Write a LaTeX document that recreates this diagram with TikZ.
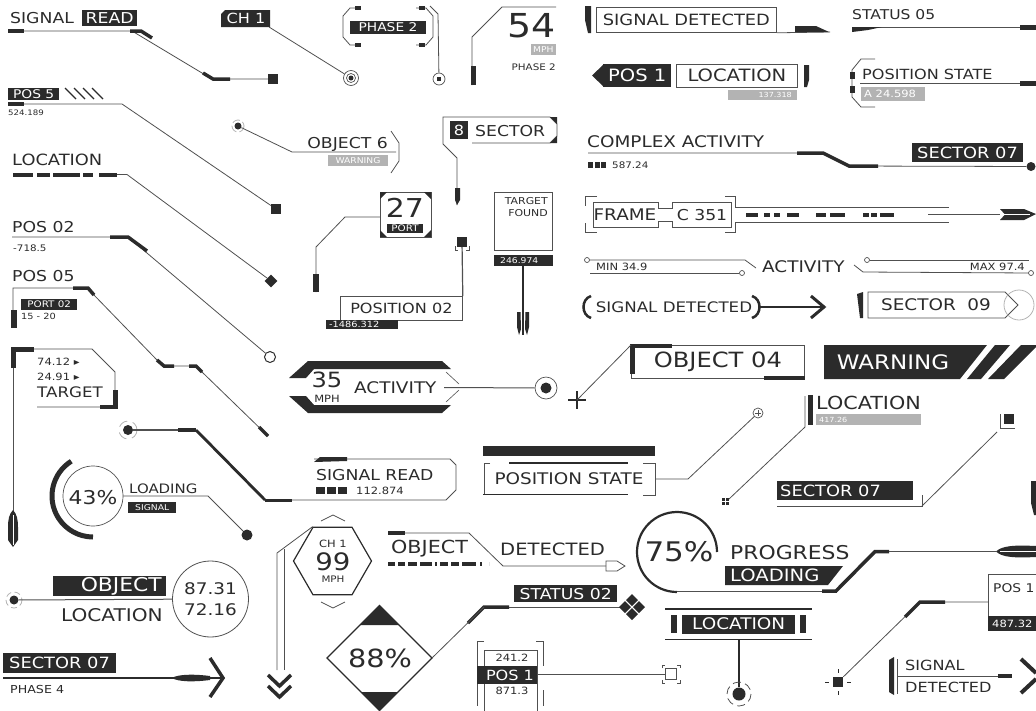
\documentclass[tikz,border=0pt]{standalone}
\usepackage{fontspec}
\setmainfont{DejaVu Sans}[FakeStretch=1.15]
\usetikzlibrary{positioning,shapes.geometric}
\definecolor{dk}{HTML}{2B2B2B}
\definecolor{gr}{HTML}{B3B3B3}
\definecolor{ln}{HTML}{505050}

\begin{document}
\begin{tikzpicture}[x=1pt, y=-1pt,
    txt/.style={font=\fontsize{#1}{#1}\selectfont, text=dk, inner sep=0pt},
    wtxt/.style={font=\fontsize{#1}{#1}\selectfont, text=white, inner sep=0pt},
    tag/.style={fill=dk, inner sep=0pt},
    gtag/.style={fill=gr, inner sep=0pt},
    wire/.style={draw=ln, line width=0.8pt},
    hv/.style={draw=dk, line width=#1}, hv/.default=3.5pt,
    dot/.style={circle, fill=dk, inner sep=0pt, minimum size=#1},
    ring/.style={circle, draw=ln, line width=0.7pt, inner sep=0pt, minimum size=#1},
    frame/.style={draw=ln, line width=0.8pt, inner sep=0pt}]
\useasboundingbox (0,0) rectangle (1036,710);

% signal read, top left
\node[txt=15, anchor=west] (sigA) at (10,18) {SIGNAL};
\node[tag, wtxt=15, minimum width=55, minimum height=16, anchor=west] (readA) at (82,18) {READ};
\node[tag, minimum size=10] (sqA) at (273,79) {};
\coordinate (sigAs) at (8,31);
\draw[wire] (sigAs) -- (132,31) -- (212,79) -- (sqA);
\draw[hv] (sigAs) -- ++(16,0);
\draw[hv] (130,31) -- (141,31) -- (152,38);
\draw[hv] (203,73) -- (213,79) -- (230,79);

% ch 1
\fill[dk] (225,10) -- (270,10) -- (270,27) -- (221,27) -- (221,14) -- cycle;
\node[wtxt=14] (ch1) at (246,18.5) {CH 1};
\coordinate (ch1c) at (269,27);
\node[ring=15] (tgtA) at (351,78) {};
\node[ring=9] (tgtAi) at (351,78) {};
\node[dot=5] (tgtAd) at (351,78) {};
\draw[wire] (ch1c) -- (tgtA);

% phase 2
\node[tag, wtxt=12, minimum width=76, minimum height=13] (ph2) at (388,27) {PHASE 2};
\draw[wire] (360,8) -- (350,8) -- (343,16) -- (343,37) -- (350,45) -- (360,45);
\draw[wire] (416,8) -- (426,8) -- (433,16) -- (433,37) -- (426,45) -- (416,45);
\foreach \px in {355,419} {
  \fill[dk] (\px,6) rectangle ++(6,4);
  \fill[dk] (\px,43) rectangle ++(6,4);
}
\node[ring=12] (tgtB) at (439,79) {};
\node[tag, minimum size=4] (tgtBd) at (439,79) {};
\draw[wire] (430,6) -- (438,14) -- (tgtB);

% 54
\node[txt=33, anchor=east] (n54) at (556,26) {54};
\draw[wire] (472,85) -- (472,37) -- (502,7) -- (556,7);
\fill[dk] (470.5,66) rectangle (476,85);
\node[gtag, wtxt=8, minimum width=25, minimum height=11, anchor=north east] (mph54) at (556,44) {MPH};
\node[txt=9, anchor=east] (ph2b) at (556,67) {PHASE 2};

% signal detected, top
\node[frame, txt=15.5, minimum width=180, minimum height=25, anchor=north west] (sigdet) at (596,7) {SIGNAL DETECTED};
\fill[dk] (585,6) -- (591,6) -- (591,33) -- (588,33) -- (585,20) -- cycle;
\draw[wire] (sigdet.south east) -- (830,32);
\fill[dk] (795,26) -- (816,26) -- (829,32) -- (795,32) -- cycle;

% status 05
\node[txt=13.5, anchor=west] (st05) at (852,15) {STATUS 05};
\draw[wire] (852,27.5) -- (1036,27.5);
\fill[dk] (852,27) -- (882,27) -- (868,30) -- (852,32) -- cycle;
\fill[dk] (1020,25) rectangle (1036,30);

% pos 1 / location, top
\fill[dk] (592,75.5) -- (604,64) -- (604,87) -- cycle;
\node[tag, wtxt=17, minimum width=68, minimum height=23, anchor=west] (pos1A) at (603,75.5) {POS 1};
\node[frame, txt=17, minimum width=121, minimum height=23, anchor=west] (loc1) at (676,75.5) {LOCATION};
\fill[gr] (728,90) rectangle (797,100);
\node[wtxt=7, anchor=east] (loc1v) at (792,95) {137.318};
\fill[dk] (804,65) -- (809,65) -- (809,80) -- (807,87) -- (804,87) -- cycle;

% position state, right
\node[txt=14, anchor=west] (psR) at (862,74.5) {POSITION STATE};
\draw[wire] (860,83) -- (1036,83);
\fill[dk] (1020,81) rectangle (1036,85.5);
\fill[gr] (861,87) rectangle (925,101);
\node[wtxt=10, anchor=west] (psRv) at (864,94) {A 24.598};
\draw[wire] (875,59) -- (861,59) -- (852,70) -- (852,97) -- (861,107) -- (875,107);
\fill[dk] (850,72) rectangle (855,79);
\fill[dk] (850,86) rectangle (855,93);

% complex activity
\node[txt=16, anchor=west] (cact) at (587,142) {COMPLEX ACTIVITY};
\node[dot=9] (cactE) at (1031,166.5) {};
\draw[wire] (588,153) -- (797,153) -- (823,153) -- (849,166) -- (cactE);
\draw[hv] (797,153) -- (823,153) -- (849,166) -- (878,166);
\fill[dk] (912,143) rectangle (1023,162);
\node[wtxt=15.5, anchor=west] (sec07a) at (917,152.5) {SECTOR 07};
\foreach \i in {0,1,2} \fill[dk] (588+6.5*\i,162) rectangle ++(5,6);
\node[txt=9, anchor=west] (cactv) at (612,165) {587.24};

% frame / c 351
\draw[wire] (593,202) -- (658,202) -- (658,208) -- (672,208) -- (672,202) -- (731,202) -- (731,227)
  -- (672,227) -- (672,221) -- (658,221) -- (658,227) -- (593,227) -- cycle;
\node[txt=16] (frm) at (625,215) {FRAME};
\node[txt=15] (c351) at (702,215) {C 351};
\draw[wire] (597,196) -- (585,196) -- (585,206);
\draw[wire] (585,223) -- (585,232) -- (597,232);
\draw[wire] (725,196) -- (735,196) -- (735,207) -- (949,207);
\draw[wire] (725,232) -- (735,232) -- (735,222) -- (949,222);
\draw[dk, line width=4pt, dash pattern=on 12pt off 6pt on 6pt off 4pt on 6pt off 7pt on 12pt off 17pt on 10pt off 4pt on 15pt off 18pt on 6pt off 2pt on 6pt off 3pt on 14pt] (746,214.5) -- (894,214.5);
\coordinate (dartB) at (1000,214.5);
\draw[wire] (928,214.5) -- (dartB);
\fill[dk] (1000,209) -- (1024,209) -- (1036,214) -- (1024,220) -- (1000,220) -- (1005,214.5) -- cycle;
\draw[white, line width=1.2pt] (1003,214.5) -- (1030,214.5);

% min / activity / max
\node[txt=16, anchor=west] (actv) at (762,266.5) {ACTIVITY};
\node[ring=5] (minA) at (587,260) {};
\node[ring=5] (minB) at (742,273) {};
\draw[wire] (minA) -- (745,260) -- (756,268);
\draw[wire] (590,273) -- (minB);
\node[txt=10, anchor=west] (minv) at (596,266.5) {MIN 34.9};
\node[ring=5] (maxA) at (867,260) {};
\node[ring=5] (maxB) at (1031,273) {};
\draw[wire] (maxA) -- (1029,260);
\draw[wire] (854,265) -- (863,272) -- (maxB);
\node[txt=10, anchor=east] (maxv) at (1025,266.5) {MAX 97.4};

% (signal detected) arrow
\node[txt=14.5] (sdet2) at (674,307) {SIGNAL DETECTED};
\draw[dk, line width=2.5pt] (591,296) .. controls (581,299) and (581,315) .. (591,318);
\draw[dk, line width=2.5pt] (752,296) .. controls (762,299) and (762,315) .. (752,318);
\coordinate (sdetE) at (760,307);
\coordinate (sdetA) at (824,307);
\draw[dk, line width=1.2pt] (sdetE) -- (sdetA);
\draw[dk, line width=3pt] (811,296) -- (824,307) -- (811,318);

% sector 09
\fill[dk] (857,294) -- (863,292) -- (863,318) -- (860,318) -- cycle;
\draw[wire] (868,292) -- (1005,292) -- (1018,305) -- (1005,318) -- (868,318) -- cycle;
\node[txt=16] (sec09) at (936,305) {SECTOR\ \ 09};
\node[circle, draw=gr, line width=0.8pt, minimum size=30, inner sep=0] (sec09c) at (1019,305) {};

% object 04
\node[frame, txt=21, minimum width=173, minimum height=33, anchor=north west] (obj04) at (631,345) {OBJECT 04};
\fill[dk] (630,344) rectangle (672,348);
\fill[dk] (630,344) rectangle (635,374);
\fill[dk] (764,376) rectangle (805,380);
\coordinate (plusA) at (577,400);
\draw[dk, line width=1.3pt] (568,400) -- (586,400) (577,391) -- (577,409);
\draw[wire] (obj04.north west) -- (plusA);

% warning
\fill[dk] (824,345) -- (987,345) -- (960,379) -- (824,379) -- cycle;
\fill[dk] (995,345) -- (1010,345) -- (981,379) -- (967,379) -- cycle;
\fill[dk] (1021,345) -- (1038,345) -- (1004,379) -- (988,379) -- cycle;
\node[wtxt=20] (warn) at (893,362) {WARNING};

% location, right
\node[txt=18, anchor=west] (locR) at (816,402.5) {LOCATION};
\fill[gr] (816,414) rectangle (921,425);
\node[wtxt=7, anchor=west] (locRv) at (819,419.5) {417.26};
\fill[dk] (808,395) rectangle (812.5,425);
\coordinate (gridA) at (729,499);
\foreach \gx/\gy in {0/0,4/0,0/4,4/4} \fill[dk] ({722+\gx},{498+\gy}) rectangle ++(3.3,3.3);
\draw[wire] (805,396) -- (805,427) -- (gridA);
\node[circle, draw=ln, line width=0.7pt, minimum size=10, inner sep=0] (cplus) at (758,413) {};
\draw[ln, line width=0.7pt] (755,413) -- (761,413) (758,410) -- (758,416);

% small square, sector 07 right
\fill[dk] (1004,414) rectangle (1014,424);
\draw[wire] (1000,414) -- (1000,428) -- (1015,428);
\coordinate (sqB) at (997,432);
\fill[dk] (777,481) rectangle (913,500);
\node[wtxt=15.5, anchor=west] (sec07b) at (780,490.5) {SECTOR 07};
\draw[wire] (777,506) -- (922,506) -- (922,495);
\draw[wire] (922,506) -- (sqB);
\fill[dk] (1031,481) -- (1036,481) -- (1036,515) -- (1034,515) -- (1031,503) -- cycle;

% 75% progress loading
\draw[dk, line width=2.2pt] (717,552) arc[start angle=360, end angle=90, radius=40];
\node[txt=27] (p75) at (679,552) {75\%};
\node[txt=19, anchor=west] (prog) at (730,553) {PROGRESS};
\fill[dk] (725,566) -- (843,566) -- (828,585) -- (725,585) -- cycle;
\node[wtxt=17, anchor=west] (load75) at (730,575.5) {LOADING};
\coordinate (dartA) at (996,551.5);
\draw[wire] (677,591) -- (822,591);
\draw[hv] (822,591) -- (836,591) -- (875,551.5) -- (889,551.5);
\draw[wire] (889,551.5) -- (dartA);
\fill[dk] (996,551.5) .. controls (1002,545.5) and (1015,545) .. (1036,546) -- (1036,557)
  .. controls (1015,558) and (1002,557.5) .. (996,551.5) -- cycle;
\draw[white, line width=1pt] (1000,551.5) -- (1036,551.5);

% pos 1, right
\node[frame, minimum width=60, minimum height=42, anchor=north west] (pos1R) at (988,574) {};
\node[txt=12, anchor=west] (pos1Rt) at (993,588) {POS 1};
\fill[dk] (988,616) rectangle (1040,631);
\node[wtxt=10, anchor=west] (pos1Rv) at (992,624) {487.32};
\node[tag, minimum size=10] (sqC) at (838,682) {};
\coordinate (pos1Rw) at (988,602);
\draw[wire] (pos1Rw) -- (920,602) -- (sqC);
\draw[hv] (945,602) -- (920,602) -- (905,617);
\draw[dk, line width=1pt] (825,682) -- (829,682) (847,682) -- (851,682) (838,669) -- (838,673) (838,691) -- (838,695);

% signal detected, bottom right
\fill[dk] (889,660) -- (894,657) -- (894,695) -- (889,692) -- cycle;
\draw[ln, line width=1pt] (897,659) -- (897,694);
\draw[wire] (897,676) -- (1012,676);
\fill[dk] (998,674) -- (1012,674) -- (1012,678) -- (998,678) -- cycle;
\node[txt=14, anchor=west] (sigBR) at (905,665.5) {SIGNAL};
\node[txt=14, anchor=west] (detBR) at (905,687) {DETECTED};
\draw[dk, line width=4pt] (1021,659) -- (1036,673) (1021,693) -- (1036,679);

% location, bottom middle
\draw[dk, line width=1.8pt] (665,609) -- (812,609) (665,639.5) -- (812,639.5);
\fill[dk] (671,615) rectangle (676.5,633);
\node[tag, wtxt=16, minimum width=113, minimum height=19, anchor=west] (locB) at (682,624) {LOCATION};
\fill[dk] (800,615) rectangle (805.5,633);
\node[dot=13] (locBd) at (739,694) {};
\draw[dk, line width=1.8pt] (739,639.5) -- (locBd);
\draw[ln, line width=0.8pt, dash pattern=on 8pt off 4.5pt] (739,694) circle[radius=12];

% status 02
\node[tag, wtxt=15, minimum width=103, minimum height=17, anchor=north west] (st02) at (514,585) {STATUS 02};
\coordinate (st02a) at (484,607);
\draw[wire] (st02a) -- (621,607);
\draw[hv] (509,607) -- (st02a) -- (468,623);
\foreach \dx/\dy in {-7/0,7/0,0/-7,0/7}
  \fill[dk] ({632+(\dx)-6},{607+(\dy)}) -- ++(6,-6) -- ++(6,6) -- ++(-6,6) -- cycle;

% 88% diamond
\coordinate (d88r) at (432,658);
\draw[dk, line width=1.2pt] (327,658) -- (379.5,605.5) -- (d88r) -- (379.5,710.5) -- cycle;
\fill[dk] (379.5,605.5) -- (399,625) -- (360,625) -- cycle;
\fill[dk] (379.5,710.5) -- (361,692) -- (398,692) -- cycle;
\draw[wire] (st02a) -- (d88r);
\node[txt=25] (p88) at (380,658) {88\%};

% hexagon 99
\node[regular polygon, regular polygon sides=6, draw=dk, line width=1.2pt, minimum size=78, inner sep=0] (hex) at (332.5,561) {};
\draw[ln, line width=0.8pt] (321,521) -- (333,515) -- (345,521);
\draw[ln, line width=0.8pt] (321,602) -- (333,608) -- (345,602);
\node[txt=10] (hexa) at (333,543.5) {CH 1};
\node[txt=24] (hexb) at (333,562) {99};
\node[txt=9] (hexc) at (333,579) {MPH};
\draw[wire] (hex.corner 2) -- (277,553) -- (277,670);
\draw[wire] (284,549.2) -- (284,670);
\draw[dk, line width=3.5pt] (268,675) -- (279.5,686) -- (291,675);
\draw[dk, line width=3.5pt] (268,686) -- (279.5,697) -- (291,686);

% object detected
\node[txt=18, anchor=west] (objD) at (391,549) {OBJECT};
\node[txt=17, anchor=west] (detD) at (500,549) {DETECTED};
\coordinate (objDs) at (388,533);
\coordinate (pencil) at (606,566);
\draw[wire] (objDs) -- (469,533) -- (503,566) -- (pencil);
\draw[hv] (objDs) -- ++(17,0);
\draw[wire] (606,561) -- (617,561) -- (625,566) -- (617,571) -- (606,571) -- cycle;
\draw[dk, line width=3.5pt, dash pattern=on 7pt off 3pt on 7pt off 3pt on 9pt off 3pt on 12pt off 3pt on 2pt off 3pt on 8pt off 3pt on 8pt off 3pt on 14pt off 4pt on 2pt] (388,564) -- (489,564);

% pos 1, middle
\draw[wire] (484,641) -- (477,641) -- (477,706);
\draw[wire] (536,641) -- (543,641) -- (543,666) (543,690) -- (543,706);
\draw[wire] (484,650) rectangle (537,712);
\fill[dk] (477,666) rectangle (537,684);
\node[txt=10] (p1a) at (512,658) {241.2};
\node[wtxt=14] (p1b) at (510,675) {POS 1};
\node[txt=10] (p1c) at (512,691) {871.3};
\node[draw=ln, line width=0.8pt, minimum size=11, inner sep=0] (tgtC) at (671,674) {};
\draw[ln, line width=0.8pt] (662,668) -- (662,665) -- (665,665) (677,665) -- (680,665) -- (680,668)
  (662,680) -- (662,683) -- (665,683) (677,683) -- (680,683) -- (680,680);
\coordinate (p1e) at (537,674);
\draw[wire] (p1e) -- (tgtC);

% signal read, middle
\node[txt=15, anchor=west] (sigM) at (316,475) {SIGNAL READ};
\foreach \i in {0,1,2} \fill[dk] (316+11*\i,487) rectangle ++(9,7);
\node[txt=10, anchor=west] (sigMv) at (356,490.5) {112.874};
\draw[wire] (314,459) -- (450,459) -- (456,465) -- (456,490) -- (446,500) -- (265,500);
\fill[dk] (314,462) -- (320,457) -- (347,457) -- (347,461) -- cycle;
\draw[hv=3pt] (265,500) -- (292,500);
\node[dot=10] (tgtD) at (128,430) {};
\draw[gr, line width=0.8pt, dash pattern=on 10pt off 5.7pt] (128,430) circle[radius=9];
\coordinate (tgtDe) at (265,500);
\draw[ln, line width=1.5pt] (tgtD) -- (178,430);
\draw[hv] (178,430) -- (196,430);
\draw[hv=2.8pt] (196,430) -- (tgtDe);

% position state, middle
\fill[dk] (483,446) rectangle (655,456);
\draw[dk, line width=1.8pt] (509,463) -- (628,463) (483,494.5) -- (628,494.5);
\draw[wire] (490,463) -- (484,463) -- (484,494);
\draw[wire] (643,463) -- (655,463) -- (655,495) -- (643,495);
\node[txt=16] (psM) at (569,479) {POSITION STATE};
\coordinate (psMr) at (655,479);
\draw[wire] (psMr) -- (688,479) -- (cplus);

% 35 activity
\fill[dk] (289,378) -- (308,361) -- (442,361) -- (451,369) -- (314,369) -- (306,378) -- cycle;
\fill[dk] (289,396) -- (308,413) -- (442,413) -- (451,405) -- (314,405) -- (306,396) -- cycle;
\draw[ln, line width=0.6pt] (446,372) -- (459,384) (459,390) -- (446,402);
\node[txt=21] (n35) at (327,380) {35};
\node[txt=10] (mph35) at (327,399) {MPH};
\node[txt=16, anchor=west] (act35) at (354,388) {ACTIVITY};
\node[ring=22] (tgtE) at (546,388) {};
\node[dot=11] (tgtEd) at (546,388) {};
\coordinate (act35e) at (444,387.5);
\draw[ln, line width=1pt] (act35e) -- (tgtE);

% position 02
\node[frame, txt=14, minimum width=122, minimum height=24, anchor=north west] (pos02) at (340,296) {POSITION 02};
\fill[dk] (326,320) rectangle (398,329);
\node[wtxt=8.5, anchor=west] (pos02v) at (329,324.5) {-1486.312};
\node[tag, minimum size=10] (sqD) at (462,242) {};
\draw[ln, line width=1.2pt] (pos02.north east) -- (sqD);
\draw[ln, line width=0.6pt] (455,246) -- (455,250) -- (458,250) (466,250) -- (469,250) -- (469,246);

% 27 port
\draw[wire] (380,192) rectangle (431,237);
\fill[dk] (380,192) -- (387,192) -- (380,199) -- cycle;
\fill[dk] (431,192) -- (424,192) -- (431,199) -- cycle;
\fill[dk] (380,237) -- (387,237) -- (380,230) -- cycle;
\fill[dk] (431,237) -- (424,237) -- (431,230) -- cycle;
\node[txt=26] (n27) at (405,208) {27};
\node[tag, wtxt=9, minimum width=36, minimum height=9] (port27) at (405,228.5) {PORT};
\coordinate (n27w) at (380,217);
\draw[wire] (n27w) -- (345,217) -- (316,247) -- (316,292);
\fill[dk] (313,274) rectangle (319,292);

% 8 sector
\draw[wire] (472,143) -- (550,143) -- (557,136) -- (557,124) -- (550,117) -- (443,117) -- (443,144) -- (457,158) -- (457,205);
\fill[dk] (550,117) -- (557,117) -- (557,124) -- cycle;
\fill[dk] (550,143) -- (557,143) -- (557,136) -- cycle;
\node[tag, wtxt=14, minimum size=18] (sq8) at (459,130) {8};
\node[txt=15, anchor=west] (sec8) at (475,131) {SECTOR};
\fill[dk] (455,188) -- (460,188) -- (460,200) -- (457,205) -- (455,200) -- cycle;

% target found
\draw[wire] (494,192) rectangle (552,250);
\node[txt=9.5, font=\fontsize{9.5}{12}\selectfont, align=right, anchor=north east] (tfound) at (548,197) {TARGET\\FOUND};
\fill[dk] (494,255) rectangle (553,266);
\node[wtxt=8, anchor=west] (tfv) at (500,260.5) {246.974};
\coordinate (tfb) at (523,266);
\draw[dk, line width=1.2pt] (tfb) -- (523,335);
\fill[dk] (517,312) -- (520.5,312) -- (521,329) -- (519,335) -- (517,327) -- cycle;
\fill[dk] (529,312) -- (525.5,312) -- (525,329) -- (527,335) -- (529,327) -- cycle;

% object 6
\node[txt=15, anchor=east] (obj6) at (388,144) {OBJECT 6};
\fill[gr] (328,155) rectangle (388,166);
\node[wtxt=8] (obj6w) at (358,160.5) {WARNING};
\draw[wire] (391,131) -- (399,143) -- (399,161) -- (391,173);
\node[dot=7] (tgtF) at (238,126) {};
\draw[gr, line width=0.8pt, dash pattern=on 8pt off 3pt] (238,126) circle[radius=6];
\draw[wire] (tgtF) -- (292,152) -- (396,152);

% pos 5
\node[tag, wtxt=12, minimum width=51, minimum height=12, anchor=north west] (pos5) at (8,87.5) {POS 5};
\foreach \i in {0,...,3} \draw[dk, line width=1.2pt] (65+9*\i,88) -- (76+9*\i,99);
\node[tag, minimum size=10] (sqE) at (276,209) {};
\coordinate (pos5s) at (8,104);
\draw[wire] (pos5s) -- (122,104) -- (sqE);
\draw[hv] (pos5s) -- ++(16,0);
\node[txt=7.5, anchor=west] (pos5v) at (8,113) {524.189};

% location, left
\node[txt=15.5, anchor=west] (locL) at (12,160) {LOCATION};
\draw[dk, line width=4pt, dash pattern=on 20pt off 4pt on 13pt off 3pt on 27pt off 3pt on 10pt off 6pt on 18pt] (13,174.5) -- (117,174.5);
\node[diamond, fill=dk, minimum size=13, inner sep=0] (dmA) at (271,281) {};
\draw[wire] (117,174.5) -- (127,174.5) -- (dmA);

% pos 02
\node[txt=15, anchor=west] (pos02L) at (12,227.5) {POS 02};
\node[txt=9, anchor=west] (pos02Lv) at (13,248) {-718.5};
\node[circle, draw=dk, line width=1pt, minimum size=11, inner sep=0] (cirA) at (270,357) {};
\coordinate (pos02s) at (12,237);
\draw[wire] (pos02s) -- (110,237) -- (128,237) -- (cirA);
\draw[hv] (110,237) -- (128,237) -- (147,251);

% pos 05
\node[txt=15, anchor=west] (pos05L) at (12,276.5) {POS 05};
\coordinate (pos05s) at (13,310);
\coordinate (pos05e) at (268,436);
\draw[wire] (pos05s) -- (13,288) -- (88,288) -- (93,294) -- (157,360) -- (165,366) -- (196,366) -- (202,372) -- (pos05e);
\draw[hv] (73,288) -- (88,288) -- (94,295);
\draw[hv] (157,360) -- (164,366) -- (174,366);
\draw[hv] (189,366) -- (196,366) -- (202,372);
\draw[hv] (259,427) -- (pos05e);
\fill[dk] (11,310) rectangle (16.5,328);
\node[tag, wtxt=9, minimum width=56, minimum height=11, anchor=north west] (port02) at (21,298.5) {PORT 02};
\node[txt=8.5, anchor=west] (port02v) at (21,316) {15 - 20};

% target block
\draw[wire] (13,349) -- (92,349) -- (115,372) -- (115,407) -- (37,407);
\draw[wire] (13,349) -- (13,546);
\fill[dk] (11,347) rectangle (34,352);
\fill[dk] (11,347) rectangle (16,368);
\fill[dk] (113,390) rectangle (118,409);
\fill[dk] (100,405) rectangle (118,409);
\node[txt=10, anchor=west] (tg1) at (37,362) {74.12 ▸};
\node[txt=10, anchor=west] (tg2) at (37,377) {24.91 ▸};
\node[txt=14.5, anchor=west] (tgt) at (37,392) {TARGET};
\fill[dk] (13,510) .. controls (17,514) and (18,520) .. (18,527) -- (18,540) -- (13,547) -- (8,540) -- (8,527)
  .. controls (8,520) and (9,514) .. (13,510) -- cycle;
\draw[white, line width=1pt] (13,515) -- (13,545);

% 43%
\coordinate (c43) at (93,496);
\draw[ln, line width=0.7pt] (c43) circle[radius=30];
\draw[dk, line width=5pt] (c43) ++(-122:41) arc[start angle=-122, end angle=-270, radius=41];
\node[txt=19] (p43) at (93,497.5) {43\%};
\node[txt=13, anchor=west] (load43) at (129,488.5) {LOADING};
\node[tag, wtxt=8, minimum width=48, minimum height=11, anchor=north west] (sig43) at (128,502) {SIGNAL};
\node[dot=11] (dotA) at (247,535) {};
\coordinate (c43e) at (123,496);
\draw[wire] (c43e) -- (208,496) -- (dotA);

% object location
\node[circle, draw=ln, line width=0.8pt, minimum size=76, inner sep=0] (cirB) at (210.5,599) {};
\node[txt=16] (ol1) at (210.5,589) {87.31};
\node[txt=16] (ol2) at (210.5,610) {72.16};
\fill[dk] (53,576) rectangle (166,596);
\node[wtxt=19, anchor=east] (objL) at (162,586) {OBJECT};
\node[txt=17.5, anchor=east] (locL2) at (163,615) {LOCATION};
\node[dot=9] (tgtG) at (14,600) {};
\draw[gr, line width=0.8pt, dash pattern=on 6pt off 3.5pt] (14,600) circle[radius=8];
\draw[ln, line width=1pt] (tgtG) -- (cirB);

% sector 07, bottom left
\fill[dk] (3,653) rectangle (116,673);
\node[wtxt=15.5, anchor=west] (sec07c) at (9,663) {SECTOR 07};
\coordinate (sec07s) at (3,678);
\coordinate (sec07e) at (223,678);
\draw[dk, line width=1.3pt] (sec07s) -- (sec07e);
\fill[dk] (172,678) .. controls (178,674) and (195,674) .. (210,676) -- (210,680)
  .. controls (195,682) and (178,682) .. (172,678) -- cycle;
\draw[dk, line width=3.5pt] (210,658) -- (223,678) -- (210,697);
\node[txt=11, anchor=west] (ph4) at (10,689) {PHASE 4};

\end{tikzpicture}
\end{document}
